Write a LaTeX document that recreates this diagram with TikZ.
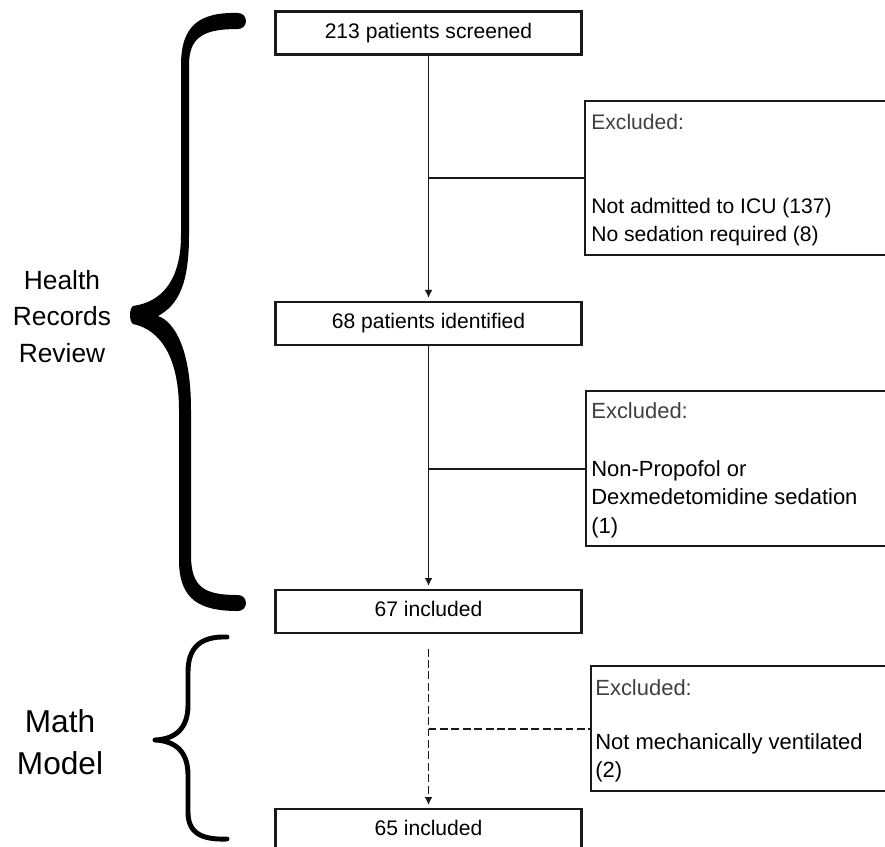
\documentclass[tikz,border=0pt]{standalone}
\usepackage{fontspec}
\setmainfont{Liberation Sans}
\usetikzlibrary{positioning, calc, arrows.meta}

\begin{document}
\begin{tikzpicture}[x=0.02cm, y=0.02cm,
    box/.style={rectangle, minimum width=6.12cm, minimum height=0.86cm, align=center, draw=black!90, line width=1.2pt, inner sep=0pt, font=\fontsize{12}{14}\selectfont, text height=10pt, text depth=4pt},
    exbox/.style={rectangle, minimum width=6.4cm, draw=black!90, line width=1.2pt, inner sep=0pt},
    extext/.style={anchor=north west, align=left, inner sep=0pt},
    side/.style={align=center, inner sep=0pt},
    arrow/.style={line width=1.1pt, draw=black!90, -{Latex[length=4.5pt,width=4.5pt]}, shorten >=1.5pt},
    branch/.style={line width=1.1pt, draw=black!90},
    dashline/.style={dash pattern=on 4.5pt off 2pt}
]
\useasboundingbox (0,0) rectangle (885,-846);

% main flow
\node (screened) [box] at (428.5,-33) {213 patients screened};
\node (identified) [box, below=4.9cm of screened] {68 patients identified};
\node (included) [box, below=4.86cm of identified] {67 included};
\node (final) [box, below=3.48cm of included] {65 included};

% exclusions
\node (excl1) [exbox, minimum height=3.08cm, below right=0.89cm and 0.03cm of screened] {};
\node (excl2) [exbox, minimum height=3.1cm, below right=0.89cm and 0.05cm of identified] {};
\node (excl3) [exbox, minimum height=2.5cm, below right=0.63cm and 0.15cm of included] {};
\node (excl1txt) [extext, font=\fontsize{12}{15.9}\selectfont] at ($(excl1.north west)+(7,-14)$)
    {{\color{black!75}Excluded:}\\[31.8pt]Not admitted to ICU (137)\\No sedation required (8)};
\node (excl2txt) [extext, font=\fontsize{12.5}{16.3}\selectfont] at ($(excl2.north west)+(6,-12)$)
    {{\color{black!75}Excluded:}\\[16.6pt]Non-Propofol or\\Dexmedetomidine sedation\\(1)};
\node (excl3txt) [extext, font=\fontsize{12.5}{15.9}\selectfont] at ($(excl3.north west)+(5,-14)$)
    {{\color{black!75}Excluded:}\\[14.7pt]Not mechanically ventilated\\(2)};

% connectors
\draw [arrow] (screened) -- (identified);
\draw [arrow] (identified) -- (included);
\draw [arrow, dashline, shorten <=8.5pt] (included) -- (final);
\coordinate (j1) at (screened.south |- excl1.west);
\coordinate (j2) at (identified.south |- excl2.west);
\coordinate (j3) at (included.south |- excl3.west);
\draw [branch] (j1) -- (excl1.west);
\draw [branch] (j2) -- (excl2.west);
\draw [branch, dashline] (j3) -- (excl3.west);

% side labels
\node (records) [side, font=\fontsize{15}{21}\selectfont] at (62,-316.5) {Health\\Records\\Review};
\node (model) [side, font=\fontsize{18}{23.8}\selectfont] at (60,-742) {Math\\Model};

% thick brace
\fill [black] (238,-13) .. controls (200,-12) and (181,-25) .. (181,-65)
    -- (181,-235) .. controls (181,-280) and (162,-302) .. (133,-306)
    .. controls (129,-309) and (129,-321) .. (133,-324)
    .. controls (162,-330) and (179,-360) .. (179,-410)
    -- (179,-560) .. controls (179,-600) and (200,-611) .. (238,-611)
    arc [start angle=-90, end angle=90, radius=0.16cm]
    .. controls (205,-595) and (191,-588) .. (191,-555)
    -- (191,-410) .. controls (191,-350) and (175,-322) .. (158,-316)
    .. controls (178,-305) and (189,-285) .. (189,-235)
    -- (189,-65) .. controls (189,-36) and (205,-29) .. (238,-29)
    arc [start angle=-90, end angle=90, radius=0.16cm] -- cycle;

% thin brace
\draw [line width=2.8pt, line cap=round, line join=round]
    (227,-637) .. controls (200,-636) and (188,-648) .. (188,-672)
    -- (188,-705) .. controls (188,-728) and (176,-739) .. (155,-740)
    .. controls (176,-741) and (188,-752) .. (188,-775)
    -- (188,-812) .. controls (188,-832) and (200,-840) .. (227,-839);
\end{tikzpicture}
\end{document}
